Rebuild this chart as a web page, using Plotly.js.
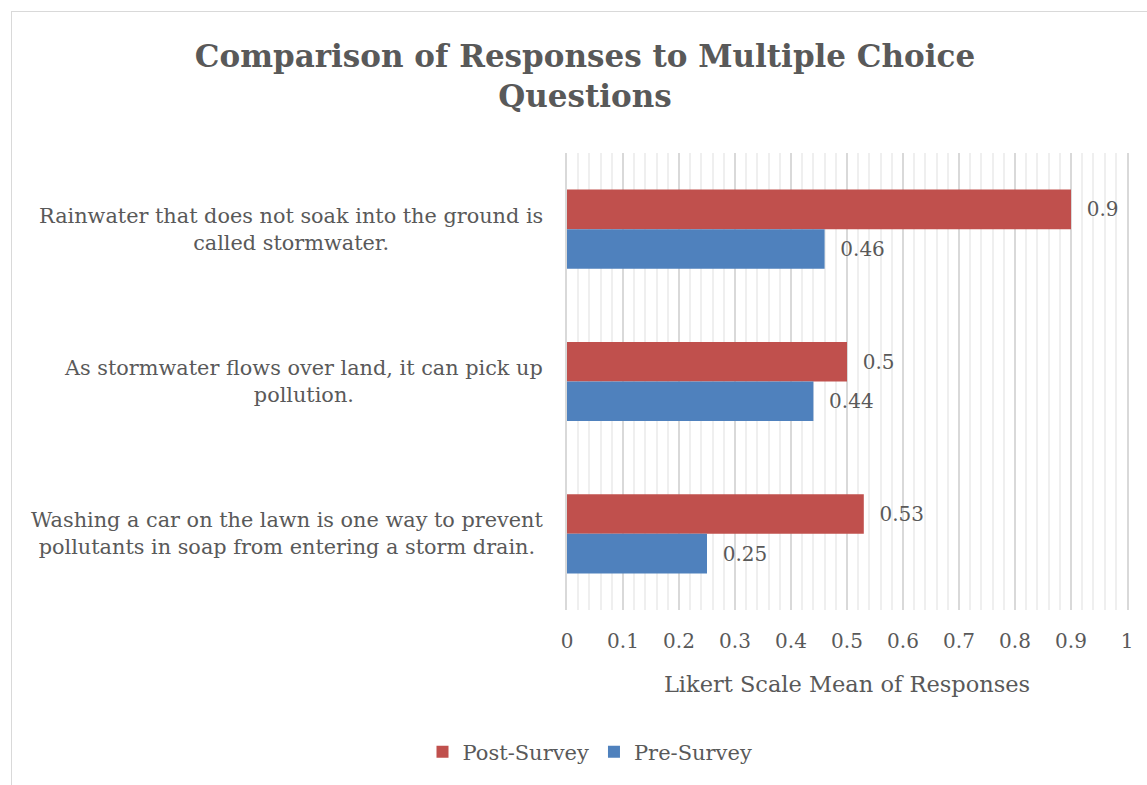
<!DOCTYPE html>
<html>
<head>
<meta charset="utf-8">
<script src="https://cdn.plot.ly/plotly-3.0.1.min.js"></script>
<style>
  html, body { margin: 0; padding: 0; background: #fff; }
  #wrap { position: relative; width: 1147px; height: 785px; }
  #chart { position: absolute; left: 0; top: 0; width: 1147px; height: 785px; }
  #frame { position: absolute; left: 11px; top: 11px; width: 1200px; height: 800px;
           border-left: 1.5px solid #d9d9d9; border-top: 1.5px solid #d9d9d9; pointer-events: none; }
</style>
</head>
<body>
<div id="wrap">
  <div id="chart"></div>
  <div id="frame"></div>
</div>
<script>
// Survey questions, top to bottom
const questions = [
  "Rainwater that does not soak into the ground is<br>called stormwater.",
  "As stormwater flows over land, it can pick up<br>pollution.",
  "Washing a car on the lawn is one way to prevent<br>pollutants in soap from entering a storm drain."
];
const postSurvey = [0.9, 0.5, 0.53];
const preSurvey = [0.46, 0.44, 0.25];

const FONT = "DejaVu Serif, serif";
const GRAY = "#595959";

// Minor grid positions every 0.02, skipping the major 0.1 steps
const minorGrid = [];
for (let i = 1; i < 50; i++) {
  if (i % 5 !== 0) minorGrid.push(i / 50);
}

const labelTemplate = "\u00a0\u00a0%{x}";

const traces = [
  {
    type: "bar", orientation: "h", name: "Post-Survey",
    y: questions, x: postSurvey,
    marker: { color: "#C0504D" },
    texttemplate: labelTemplate, textposition: "outside",
    textfont: { family: FONT, size: 20, color: GRAY },
    cliponaxis: false, hoverinfo: "none"
  },
  {
    type: "bar", orientation: "h", name: "Pre-Survey",
    y: questions, x: preSurvey,
    marker: { color: "#4F81BD" },
    texttemplate: labelTemplate, textposition: "outside",
    textfont: { family: FONT, size: 20, color: GRAY },
    cliponaxis: false, hoverinfo: "none"
  }
];

// Category labels drawn as centred two-line blocks to the left of the plot
const questionLabels = questions.map(q => ({
  xref: "paper", yref: "y", x: 0, y: q, xshift: -22,
  xanchor: "right", yanchor: "middle", align: "center",
  text: q, showarrow: false,
  font: { family: FONT, size: 20.8, color: GRAY }
}));

const layout = {
  width: 1147, height: 785,
  margin: { l: 567, r: 20, t: 153, b: 175 },
  paper_bgcolor: "#ffffff", plot_bgcolor: "#ffffff",
  barmode: "group", bargap: 0.48, bargroupgap: 0,
  title: {
    text: "<b>Comparison of Responses to Multiple Choice<br>Questions</b>",
    font: { family: FONT, size: 31, color: GRAY },
    xref: "container", x: 585 / 1147, xanchor: "center",
    yref: "container", y: 1 - 67 / 785, yanchor: "middle"
  },
  xaxis: {
    range: [0, 1], fixedrange: true,
    tickmode: "linear", tick0: 0, dtick: 0.1,
    tickfont: { family: FONT, size: 20, color: GRAY },
    ticks: "", ticklabelstandoff: 17,
    showgrid: true, gridcolor: "#d9d9d9", gridwidth: 2,
    zeroline: false, showline: false,
    minor: { tickmode: "array", tickvals: minorGrid, showgrid: true, gridcolor: "#efefef", gridwidth: 2 },
    title: {
      text: "Likert Scale Mean of Responses",
      font: { family: FONT, size: 22.5, color: GRAY },
      standoff: 24
    }
  },
  yaxis: {
    autorange: "reversed", showticklabels: false, ticks: "",
    showgrid: false, zeroline: false, fixedrange: true,
    showline: true, mirror: true, linecolor: "#d9d9d9", linewidth: 2
  },
  annotations: questionLabels,
  showlegend: true,
  legend: {
    orientation: "h",
    xref: "container", x: 590 / 1147, xanchor: "center",
    yref: "container", y: 1 - 752 / 785, yanchor: "middle",
    font: { family: FONT, size: 21, color: GRAY },
    itemwidth: 30, traceorder: "normal"
  }
};

Plotly.newPlot("chart", traces, layout, { displayModeBar: false, staticPlot: true });
</script>
</body>
</html>
